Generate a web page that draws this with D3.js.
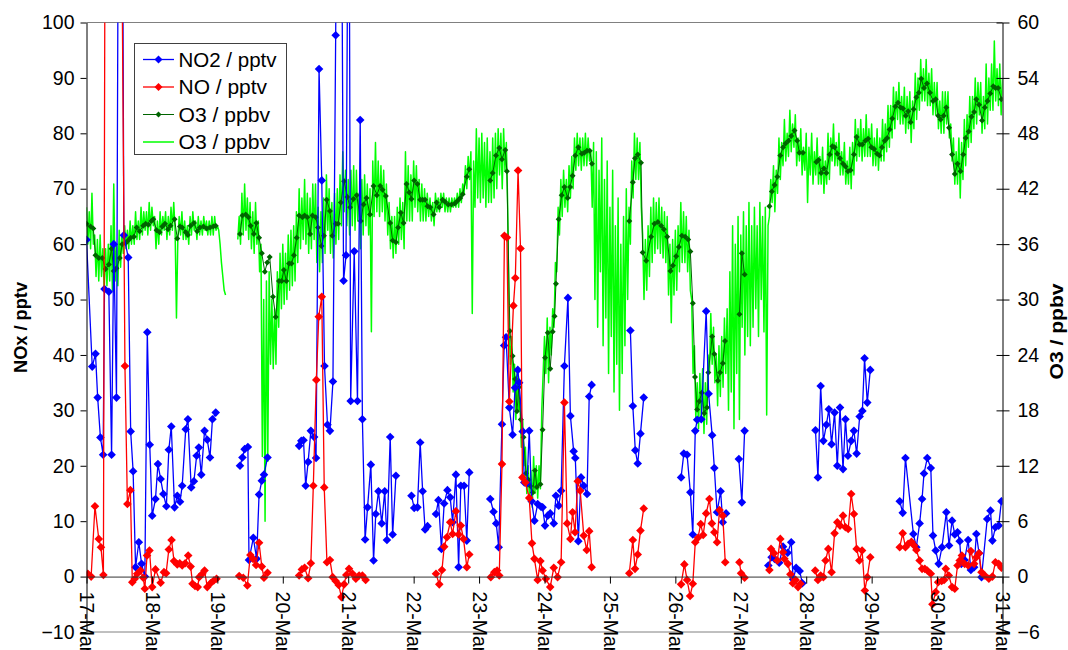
<!DOCTYPE html>
<html>
<head>
<meta charset="utf-8">
<script src="https://cdn.jsdelivr.net/npm/d3@7"></script>
<style>
  body { margin: 0; background: #fff; }
  svg { display: block; font-family: "Liberation Sans", Arial, sans-serif; }
</style>
</head>
<body>
<div id="chart"></div>
<script>
// time is in hours since 17-Mar 00:00, null = gap in the record

const dayLabels = ['17-Mar', '18-Mar', '19-Mar', '20-Mar', '21-Mar', '22-Mar', '23-Mar', '24-Mar',
  '25-Mar', '26-Mar', '27-Mar', '28-Mar', '29-Mar', '30-Mar', '31-Mar'];
const leftTicks = [-10, 0, 10, 20, 30, 40, 50, 60, 70, 80, 90, 100];
const rightTicks = [-6, 0, 6, 12, 18, 24, 30, 36, 42, 48, 54, 60];

// NO2 / pptv
const no2 = [
  [0,60.8],[2.1,37.9],[3.3,40.2],[4.1,32.3],[5.1,25.1],[6.1,22],[6.6,51.9],[8.2,51.4],[9.2,22],[10,60],[11,32.3],[12,170],[13,150],[13.7,61.6],[15.3,57.6],[16.2,26.2],[17.1,19],[18,1.7],[19.2,6.2],[20.2,2.3],[21.4,0],[22.3,44.1],[23.2,23.8],[24.1,11],[25.3,14],[26.2,20.3],[27.2,17.6],[28.2,14.9],[29.3,12.7],[30.2,22.9],[31.1,27.1],[32.3,12.5],[33.3,14.6],[34.3,13.5],[35.1,16.4],[36.4,26.6],[37.2,28.4],[38.4,16.1],[39.4,17.2],[40.4,21.8],[41.2,23.3],[42.1,18.4],[43.3,26.3],[44.3,24.7],[45.3,21.5],[46.2,28.4],[47.4,29.6],[48,null],
  [56.3,20],[57.2,21.5],[58,23],[59.2,23.4],[59.6,3],[61.2,7],[62.4,3.2],[63.3,14.8],[64.3,17.3],[65.1,18.4],[66.4,21.5],[67,null],
  [78,23.6],[78.8,24.5],[79.6,24.6],[80.4,16.4],[81.3,20.7],[82.3,26.3],[83.5,25.2],[84.2,21.4],[85.3,91.6],[86.3,71.5],[87.3,38],[88.4,27.4],[89.3,26.3],[90.4,35.2],[91.4,97.7],[92.4,180],[93.4,140],[94.3,53.4],[95.2,58],[96.2,150],[96.9,31.7],[98.2,58.7],[99.4,31.7],[100.4,82.4],[101.2,28.4],[102.2,6.7],[103.1,12.5],[104.3,20.2],[105.3,2.9],[106.1,11.3],[107.1,15.4],[108.3,9.6],[109.4,15.4],[110.2,6.6],[111.4,25.2],[112.3,7.6],[113.5,18.2],[114,null],
  [119.2,14.6],[120.2,12.4],[121.4,12.5],[122.4,24.2],[123.3,15.4],[124.2,8.5],[125.1,9.1],[126,null],
  [128.2,11.3],[129.1,13.8],[130.2,5],[131.2,13.2],[132.4,15.6],[133.4,14.3],[134.3,9.8],[135.5,18.4],[136.5,1.7],[137.3,16.4],[138.5,16.4],[139.5,6.5],[140.4,18.8],[141,null],
  [148.1,14],[149.3,11.7],[150.3,9.6],[151.2,5.3],[152.4,27.5],[153.2,41.7],[153.9,43.2],[155.1,30.5],[156.3,25.6],[157.2,34.1],[158.2,37.3],[158.7,35],[160,26.2],[160.6,17],[161.6,16.8],[162.4,26.3],[163.3,13.6],[164.3,10.1],[165.5,13.1],[166.7,12.6],[167.3,12.5],[168.2,9.2],[169.2,11],[170.1,11.4],[171.4,9.6],[172.2,14.6],[173.2,12.8],[174.1,15.5],[175.3,38],[176.6,50.3],[177.5,29],[178.7,22.6],[179.3,21.4],[180.4,6.4],[181.4,17.9],[182.4,16.4],[183.6,14.9],[184.4,32.5],[185.3,34.6],[186,null],
  [199.5,44.4],[200.4,30.8],[201.3,22.8],[202.2,20.4],[203.2,25.8],[204.4,32.3],[205,null],
  [218.1,17.9],[219.1,22.2],[220.3,22],[221.5,15.2],[222.4,7.6],[223.3,26.3],[224,28.3],[225.5,28.4],[227.3,47.9],[228.2,33],[229.5,25.5],[230.3,19.6],[231.3,11.6],[232.6,15.4],[233.4,9.8],[234.6,11.4],[235,null],
  [239.3,21.2],[240.4,13.4],[241.4,26.3],[242,null],
  [250.1,2],[251.3,3.5],[252.4,3.2],[254.1,2.5],[255.5,5.4],[257.2,4.3],[258.5,6.2],[259.2,-0.5],[260.3,1.6],[261.6,1],[262.6,-1.2],[263,null],
  [267.4,26.4],[268.3,17.9],[269.3,34.4],[270.3,24.5],[271.4,27.4],[272.3,30.2],[273.3,23.9],[274.4,29.6],[275.4,20],[276.4,30.5],[277.5,19.4],[278.4,28.4],[279.3,21.8],[280.5,24.5],[281.5,26.3],[282.5,22.2],[283.6,28.9],[284.6,29.9],[285.4,39.4],[286.4,31.4],[287.5,37.3],[288,null],
  [298.3,13.6],[299.4,11.5],[300.4,21.4],[303.3,7.7],[304.4,5.3],[305.6,9.6],[306.5,14],[307.2,18.6],[308.4,21.4],[309.7,19.6],[310.5,7.4],[311.5,4.7],[312.6,2.3],[313.8,5.3],[315.4,11.6],[316.4,5.6],[317.5,10.1],[318.5,7.6],[319.5,8],[320.3,6.4],[320.9,2.3],[322.1,3],[323.4,6.6],[324.4,1.2],[325.6,1.7],[326.4,7.7],[327.4,4.2],[328.3,-0.1],[330.4,10.4],[331.6,11.9],[332.3,6.5],[333.4,8.9],[334.6,9.2],[335.6,13.6]
];

// NO / pptv
const no = [
  [0.5,0.5],[1.7,0],[3.1,12.7],[4.5,6.8],[5.3,5.3],[6.2,0.3],[7.2,200],[8.3,300],[9.3,260],[10.3,250],[11.3,230],[12.3,250],[13.1,105],[14.1,38],[15,13.1],[16.1,15.6],[16.8,-1],[17.7,-0.4],[18.6,0.5],[19.8,1.1],[20.8,-0.2],[21.4,-2.2],[22.2,3.8],[23.1,4.7],[24.1,-1.9],[25.3,1.3],[27.2,-1.1],[28.4,0.8],[29.2,0.6],[30.2,4.9],[31.2,6.6],[32.1,2.8],[33.3,2.2],[34.2,2.4],[35.1,2],[36.2,2.4],[37.3,3.8],[38.2,1.8],[38.9,-1.3],[39.8,-1.7],[40.8,-1.9],[41.3,-0.1],[42.5,0.5],[43.3,1.1],[44.3,-1.9],[45.5,-1.2],[46.7,-0.7],[47.7,-0.4],[48.2,null],
  [56,0.1],[57.5,-0.2],[59,-1.6],[60.1,3.9],[61.1,3.2],[62.2,2.1],[63.3,6.1],[64.3,1.8],[65.1,-0.2],[66.4,0.7],[67,null],
  [78,0.2],[79,1.3],[80,1.6],[81.3,-0.3],[82.3,2.4],[83.2,16.4],[84.3,35.5],[85.2,46.9],[86.3,50.5],[87.2,16.1],[88.2,2.6],[89.3,3],[90.3,-0.1],[91.4,-0.8],[92.5,-1.5],[93.5,-3.7],[94.5,-1.4],[95.3,0.3],[96.3,1.4],[97.6,0.5],[98.8,-0.4],[100,0.2],[101.2,0.2],[102.4,-0.6],[103,null],
  [128.2,0.5],[129.4,-1.4],[130.4,1.2],[131.2,5.4],[132.2,7.1],[133.4,9.8],[134.3,7.7],[135.5,11.8],[136.5,7.6],[137.3,9.2],[138.3,6.8],[139.5,1.7],[140.4,4],[141,null],
  [148.3,-0.1],[149.6,0.8],[150.6,1.1],[151.4,0.2],[152.4,20.3],[153.3,61.5],[154.2,61.2],[155.1,31.6],[156.6,48.9],[157.3,53.9],[158.3,73.3],[159.2,59.2],[159.9,17.9],[161,17],[162.4,14.2],[163.4,6],[164.3,3.2],[165.5,-0.6],[166.5,2.8],[167.3,1.1],[168.5,-0.4],[170.1,-1.9],[171.4,1.6],[172.8,-0.1],[174.1,2.6],[175.3,31.4],[176.3,9.6],[177.5,6.8],[178.3,11.6],[179.2,8],[180.2,17.2],[181.1,15.5],[182.4,7.4],[183.5,4.8],[184.4,8.2],[185.3,1.7],[186,null],
  [199.1,0.6],[200.4,6.6],[201.2,1.4],[202.2,4],[203.2,8.3],[204.4,12.3],[205,null],
  [218.1,-1.4],[219.3,2.2],[220.3,-0.6],[221.4,-3.5],[222.4,-1.3],[223.3,6.2],[224.3,7],[225.3,9.5],[226.2,7.5],[227.3,11.4],[228.5,14],[229.4,9.6],[230.3,8],[231.3,6.2],[232.2,12],[233.4,11],[234.3,2.6],[235,null],
  [239.5,2.6],[240.1,0.6],[241.4,-0.2],[242,null],
  [250.5,1.2],[251.1,5],[252.2,4.2],[253.4,2.9],[254.5,6.8],[255.5,4.4],[256,3.2],[257.3,2.3],[258.2,0.4],[259.1,-1.2],[260.1,-0.6],[261,-1.9],[261.9,-1.3],[262.5,null],
  [267.3,1.1],[268.3,-0.6],[269.3,0.2],[270.3,-0.1],[271.1,2.9],[272.1,5],[273.3,0.8],[274.4,7.8],[275.4,9.8],[276.4,9.2],[277.5,11],[278.4,8.9],[279.4,8.6],[280.5,14.9],[281.5,11.3],[282.5,5],[283.5,2.9],[284.5,4.7],[285.5,-2.5],[286.4,-0.1],[287.5,3.5],[288,null],
  [298.3,5.3],[299.4,7.8],[300.4,5.3],[301.4,5.9],[302.6,6.3],[303.6,5.6],[304.4,4.8],[305.6,2.9],[306.5,1.4],[307.5,1.4],[308.4,1.1],[309.7,0.5],[310.3,-5],[311.5,-2.8],[312.4,-1],[313.7,-0.8],[314.6,-0.6],[315.2,1.4],[316.3,0.2],[317.5,-1.9],[318.5,-2.2],[319.5,2],[320.3,2.9],[321.1,3.8],[322.1,2.3],[323.4,2],[324.4,4.6],[325.6,2.3],[326.4,3.5],[327.4,4.2],[328.3,0.8],[329.5,0.2],[331,-0.4],[332.3,0],[333.4,2.6],[334.6,2.3],[335.6,1.6]
];

// O3 / ppbv, hourly (dark green, with markers)
const o3Hourly = [
  [0,38.2],[1.5,37.9],[2.5,37.7],[3.3,34.8],[4.5,34.5],[5.8,34.5],[7,33.3],[8.2,33.8],[9.2,35.5],[10,33.1],[11,33.4],[12.2,34.5],[13.1,36],[14.3,36.1],[15.3,36.4],[16.2,36.7],[17.4,36.8],[18.4,37.8],[19.5,37.4],[20.8,38],[21.7,38.2],[22.7,38.1],[23.8,38.5],[24.5,38.7],[25.7,37.5],[26.8,37.3],[27.8,37.9],[28.8,38.2],[29.9,37.6],[30.8,38],[32.3,38.7],[33.3,36.6],[34.3,37.9],[35.1,37.8],[36.4,37.3],[37.2,37],[38.2,38],[39.4,38.3],[40.6,37.4],[41.6,37.8],[42.9,37.9],[44.1,37.7],[45.3,37.8],[46.5,37.9],[47.4,38],[48,null],
  [56.3,37.1],[57.2,39.1],[58.4,39.2],[59.4,38.9],[60.2,38],[61.4,37.1],[62.3,38.3],[63.3,36.7],[64.3,35],[65.4,33],[66.3,34],[67.2,34.6],[68.4,30.3],[69.4,28.1],[70.6,32],[71.6,32],[72.4,33.2],[73.3,32],[74.3,33.9],[75.2,33.9],[76.1,34.8],[77.1,36.7],[78,39.1],[79.2,38.9],[80,39.1],[81,38.9],[82,37.1],[82.9,39.1],[84.1,38.9],[84.9,37.8],[86.2,35.8],[87.1,36.9],[88.1,40.8],[89.3,39.6],[90.2,36.9],[91.4,38.2],[92.3,38.2],[93.3,40.5],[94.5,42.8],[95.7,41.1],[96.7,40],[97.9,40.9],[99.1,41.3],[100.6,38.5],[101.6,40.3],[102.7,41],[104,39.2],[105.3,42.3],[106.5,41.3],[107.7,42.3],[108.6,41.9],[109.8,41.2],[111.4,38.3],[112.3,36.4],[113.5,36.2],[114.3,37.8],[115.3,39.4],[116.3,38.3],[117.4,42.5],[118.4,41.6],[119.2,40.9],[120.2,42.9],[121.4,42.5],[122.4,40.8],[123.3,40.8],[124.2,40.8],[125.1,40.1],[126.1,40],[127.3,39.2],[128.4,40.5],[129.4,40],[130.6,40.8],[131.5,40.6],[132.7,40.3],[133.9,40.3],[135.1,40.4],[136.1,40.7],[137.1,41],[138,41.4],[139.5,43.3],[140.4,44.1],[141,null],
  [148.1,42.9],[149,43.7],[150.2,45.6],[151.4,46.4],[152.4,45.2],[153.6,46.2],[154.2,43.9],[155.3,26.6],[156.3,23.9],[157.2,21.4],[157.9,17.9],[158.6,20.5],[159.3,17],[160.3,15.1],[161.2,11.2],[162.1,10.5],[162.8,9.8],[163.7,9.1],[164.5,11.5],[165.2,9.7],[166.5,10],[167.3,15.9],[168.2,23.7],[169.2,26.4],[170.1,22.5],[171,26.5],[171.7,28.2],[172.2,31.7],[173.2,38.7],[174.3,41.3],[175.3,42.2],[176.5,41],[177.4,42.2],[178.3,43.4],[179.3,45.6],[180.4,46.5],[181.7,45.8],[182.6,45.9],[183.6,46.1],[184.6,46.1],[185.4,44.7],[186,null],
  [199.1,38.5],[200.4,42.7],[201.2,45.3],[202.2,45.7],[203.4,44.8],[204,35.1],[205.3,34.2],[207.1,36.8],[208.3,38.2],[209.6,38.4],[210.8,38],[211.8,37.6],[213,36.8],[214.2,33.1],[215.1,33.7],[216.3,34.7],[217.3,35.7],[218.4,36.9],[219.6,36.8],[220.7,36.5],[221.5,35.2],[222.4,29.6],[223.2,21.6],[224,18.1],[224.8,19],[225.7,19.9],[226.6,17.7],[227.6,18.3],[228.1,22.1],[229.5,26],[230.3,24.1],[231.6,21.2],[232.4,22.1],[233.4,23.1],[234.2,25.5],[235,null],
  [239.5,28.4],[240.4,35],[241.4,32.7],[242,null],
  [250.5,40.1],[251.4,41.7],[252.4,42.4],[253.4,43.3],[254.5,45.6],[255.5,46.5],[256.4,46.9],[257.5,47.2],[258.5,47.7],[259.7,48.3],[260.7,47.2],[261.5,45.9],[262.8,45.9],[263.5,null],
  [267.7,44.9],[268.5,45.1],[269.5,43.7],[270.5,44.2],[271.4,43.7],[272.6,45.7],[273.6,46.6],[274.4,46.5],[275.4,45.8],[276.4,45.3],[277.5,44.7],[278.4,44.4],[279.3,43.9],[280.3,44],[281.5,45.7],[282.5,47.6],[283.6,46.8],[284.6,46.8],[285.7,47.2],[286.7,47.4],[287.9,46.5],[288.9,46.3],[290,45.8],[290.9,45.6],[291.8,46.5],[292.8,47.2],[293.7,47.5],[294.6,48.4],[295.6,49.6],[296.7,50.9],[297.7,51.3],[298.6,50.8],[299.5,50.7],[300.5,49.9],[301.4,50.4],[302.3,49.2],[303.4,50.6],[304.4,51.9],[305.3,52.4],[306.2,53.9],[307.2,52.9],[308.3,53.4],[309.4,52.4],[310.5,51.5],[311.5,51.7],[312.4,49.9],[313.3,49.5],[314.4,49.9],[315.4,50.8],[316.4,48.6],[317.5,45.7],[318.5,43.6],[319.5,44.7],[320.6,43.9],[321.6,45.7],[322.5,47.5],[323.6,48.2],[324.6,49.8],[325.6,50.3],[326.4,51.7],[327.4,51.1],[328.5,49.4],[329.5,50.8],[330.5,51.5],[331.5,52.3],[332.6,53.1],[333.4,52.9],[334.4,52.9],[335.6,51.7]
];

// O3 / ppbv, fast record (light green): [start hour, values every half hour]
const o3FastStep = 0.5;
const o3FastSegments = [
  [0, [40,36,39.5,35.5,41.5,36,37,32.5,36.5,32,37,32.5,35.5,31,35.5,31.5,36,32,38,31,42.5,32,36,31.5,37.5,33.5]],
  [13, [37,35, 38,35.5, 37.5,35.5, 38.5,36, 38,36, 39.5,36.5, 38.5,36.5, 40,37, 39.5,37.5, 39.5,37, 40.5,37.5, 40,38,
        39,35.5, 38.5,36, 39.5,37, 39,37.5, 39.5,36.5, 39,37, 40,37.5, 40.5,37.5, 28,36.5, 39,37, 39.5,36.5, 38.5,36.5,
        38,36, 39,37, 39.5,37.5, 38.5,36.5, 39,37, 38.5,37, 39,37.5, 38.5,37, 38.5,37, 39,37, 39,37.5]],
  [48, [38,37.5,36,34,32.5,31,30.5]],
  [55.5, [36.5, 39,36, 41.5,37, 42.5,37.5, 41,36.5, 40.5,35.5, 39.5,35, 40.5,36, 38.5,33]],
  [64, [36,13, 30,6, 32,12.5, 33,23, 30,22.5, 29,23, 33,27, 35,29, 36,29.5, 35,30, 37,31, 37.5,31.5, 38,32, 39.5]],
  [77.5, [34, 42,35.5, 41,36.5, 43,36, 41.5,35, 41,35.5, 42.5,36.5, 42.5,34, 40,33, 39.5,34, 41,35, 43.5,37.5, 42,35,
          40.5,34.5, 41.5,36, 42,36.5, 43.5,38, 46,39.5, 44,38, 43,37, 44,38, 44.5,37.5, 44,38.5, 41.5,35.5, 43,37,
          43.5,38, 42.5,37, 42,26.5, 45,39, 47,39.5, 45,39, 44.5,39.5, 44,38.5, 42.5,37, 40.5,35.5, 39,34.5,
          39,35, 40,36, 41]],
  [115.5, [36.5, 40.5,35.5, 46,38.5, 44.5,38.5, 43.5,38.5, 45,40, 44.5,39.5, 43,38.5, 42.5,38.5, 42,38.5, 41.5,39,
           41,38.5, 40.5,38, 41.5,39.5, 41,39.5, 41.5,40, 41.5,39.5, 41,39.5, 41,39.5, 41,40, 41,40, 41.5,40, 42,40.5,
           42.5,41.5, 44.5,42, 45.5,43]],
  [141, [46,28.5, 45,40, 48.5,41, 47.5,40.5, 48,41, 47,40, 47.5,40.5, 46,40.5, 47.5,41, 48,42, 48.5,43.5, 48,42,
         48.5,44, 47,40]],
  [155, [27,23, 26,20, 23,17, 22,18, 19,14, 17,12, 14,9, 12,8, 11.5,7.5, 13,9, 12,8.5, 12,9.5, 18,22, 26,22, 28,21,
         27,24, 29,27, 34,33, 40,37]],
  [174, [43,39, 44,40, 43,39.5, 44.5,41, 45.5,42, 47.5,44, 48,44.5, 47.5,44, 47.5,44.5, 48,44.5, 47.5,45, 46,40]],
  [186, [47,30, 46,27, 44,33, 47.5,25, 43,28, 45,22, 40,26, 44,20, 38,23, 41,18, 36,22, 39,25, 42,30, 40,36]],
  [200, [45,41, 48,43, 47.5,43, 47,40, 37,30, 36.5,31, 38,32.5, 40,34, 41,35, 40.5,35.5, 41,35, 40,34.5, 39.5,34,
         39,30.5, 36,27.5, 36.5,30.5, 37.5,31, 38,33, 40.5,34, 39.5,34, 39,33, 37.5,31, 30,22, 25,17, 21,16, 22,17,
         22.5,15.5, 21,16.5, 24,22, 28.5,23, 27,21, 24,18.5, 25,19.5, 26,20.5, 28,22]],
  [235, [29,18, 33,20, 38,16, 36,22, 39,17, 37,27, 39.5,24, 38,26, 40.5,25, 38,27, 40,29, 38,26, 40.5,30, 39,26.5,
         40,17.5, 38,39]],
  [251, [43,40.5, 44.5,39.5, 44,41.5, 47.5,43, 47,44.5, 49.5,45, 48,45.5, 50.5,46, 49,46.5, 50,44.5, 47.5,45, 48.5,43.5,
         46.5,44, 48,40.5, 46.5,43.5, 48,42.5, 46,43.5, 47.5,42.5, 45.5,42.5, 46.5,41.5, 45,42.5, 48,43, 47.5,45, 49,44.5,
         47,44.5, 48,43.5, 46,43.5, 47,42.5, 45,42.5, 46.5,42, 47,43.5, 49.5,45, 48.5,45.5, 49.5,45, 48.5,45.5, 50,45.5,
         48.5,45.5, 49,44.5, 47.5,44.5, 48.5,44, 47.5,45, 49.5,45, 49,46, 51,46.5, 51,47.5, 53,48.5, 52.5,49.5,
         53.5,49, 52,49, 53,48, 52,48.5, 52.5,47, 51.5,48.5, 54.5,49.5, 54,50.5, 56,51.5, 55,51.5, 56,51, 54.5,51,
         55,50, 53.5,50, 53.5,48.5, 51.5,48, 52.5,48, 52.5,49, 52.5,47.5, 49,45, 47.5,42.5, 46,42.5, 47.5,41, 47,43, 49.5,44.5,
         50,46.5, 52,47, 52,48.5, 54,49, 53.5,50, 53.5,48, 52,48.5, 55.5,49, 54,50.5, 55.5,50.5, 58,51.5,
         55,51, 55.5,50, 54]]
];

const width = 1068, height = 650;
const plot = { left: 86.5, right: 1002.5, top: 22.5, bottom: 632 };

const svg = d3.select('#chart').append('svg')
  .attr('width', width)
  .attr('height', height);

const x = d3.scaleLinear().domain([0, 336]).range([plot.left, plot.right]);
const yL = d3.scaleLinear().domain([-10, 100]).range([plot.bottom, plot.top]);
const yR = d3.scaleLinear().domain([-6, 60]).range([plot.bottom, plot.top]);

svg.append('clipPath').attr('id', 'plot-clip')
  .append('rect')
  .attr('x', plot.left).attr('y', plot.top)
  .attr('width', plot.right - plot.left).attr('height', plot.bottom - plot.top);

// plot area border (top and bottom)
[plot.top, plot.bottom].forEach(yy => {
  svg.append('line')
    .attr('x1', plot.left).attr('x2', plot.right)
    .attr('y1', yy).attr('y2', yy)
    .style('stroke', '#808080').style('stroke-width', 1);
});

// light green series from half-hourly segments
const o3Fast = [];
o3FastSegments.forEach(([start, vals]) => {
  const last = o3Fast[o3Fast.length - 1];
  if (last && start - last[0] > 1) o3Fast.push([start - o3FastStep, null]);
  vals.forEach((v, j) => o3Fast.push([start + j * o3FastStep, v]));
});

const diamond = r => `M0,${-r}L${r},0L0,${r}L${-r},0Z`;

const g = svg.append('g').attr('clip-path', 'url(#plot-clip)');

function drawSeries(data, yScale, color, lineWidth, markerR) {
  const line = d3.line()
    .defined(d => d[1] != null)
    .x(d => x(d[0]))
    .y(d => yScale(d[1]));

  g.append('path')
    .datum(data)
    .attr('d', line)
    .style('fill', 'none')
    .style('stroke', color)
    .style('stroke-width', lineWidth)
    .style('stroke-linejoin', 'round');

  if (markerR) {
    g.append('g').selectAll('path')
      .data(data.filter(d => d[1] != null))
      .enter()
      .append('path')
      .attr('d', diamond(markerR))
      .attr('transform', d => `translate(${x(d[0])},${yScale(d[1])})`)
      .style('fill', color);
  }
}

drawSeries(o3Fast, yR, '#00ff00', 1.5, 0);
drawSeries(o3Hourly, yR, '#006400', 1, 3);
drawSeries(no2, yL, '#0000ff', 1.3, 4.3);
drawSeries(no, yL, '#ff0000', 1.3, 4.3);

// axes
const fontSize = '19.5px';

const axL = svg.append('g')
  .attr('transform', `translate(${plot.left},0)`)
  .call(d3.axisLeft(yL).tickValues(leftTicks).tickSize(6).tickPadding(6).tickSizeOuter(0));

const axR = svg.append('g')
  .attr('transform', `translate(${plot.right},0)`)
  .call(d3.axisRight(yR).tickValues(rightTicks).tickSize(7).tickPadding(8).tickSizeOuter(0));
axR.selectAll('.tick line').attr('x1', -6);

const axX = svg.append('g')
  .attr('transform', `translate(0,${yL(0)})`)
  .call(d3.axisBottom(x).tickValues(d3.range(0, 337, 24)).tickFormat((d, i) => dayLabels[i])
    .tickSize(7).tickSizeOuter(0));
axX.select('.domain').style('stroke', '#333');
axX.selectAll('.tick text')
  .attr('transform', 'rotate(90)')
  .attr('x', 15)
  .attr('y', 0)
  .attr('dy', '0.35em')
  .style('text-anchor', 'start');

[axL, axR, axX].forEach(ax => {
  ax.selectAll('text').style('font-size', fontSize).style('fill', '#000')
    .style('font-family', '"Liberation Sans", Arial, sans-serif');
  ax.selectAll('line').style('stroke', '#000');
});
axL.select('.domain').style('stroke', '#000');
axR.select('.domain').style('stroke', '#000');

// axis titles
svg.append('text')
  .attr('transform', `translate(27,327.5) rotate(-90)`)
  .attr('text-anchor', 'middle')
  .attr('textLength', 91)
  .attr('lengthAdjust', 'spacingAndGlyphs')
  .style('font-size', '18px')
  .style('font-weight', 'bold')
  .text('NOx / pptv');

svg.append('text')
  .attr('transform', `translate(1063,331.5) rotate(-90)`)
  .attr('text-anchor', 'middle')
  .attr('textLength', 96)
  .attr('lengthAdjust', 'spacingAndGlyphs')
  .style('font-size', '18px')
  .style('font-weight', 'bold')
  .text('O3 / ppbv');

// legend
const legendItems = [
  { label: 'NO2 / pptv', color: '#0000ff', r: 4, width: 1.3, len: 98 },
  { label: 'NO / pptv', color: '#ff0000', r: 4, width: 1.3, len: 88.5 },
  { label: 'O3 / ppbv', color: '#006400', r: 3, width: 1, len: 91.5 },
  { label: 'O3 / ppbv', color: '#00ff00', r: 0, width: 1.5, len: 91.5 }
];

const legend = svg.append('g');
legend.append('rect')
  .attr('x', 134.5).attr('y', 43.5)
  .attr('width', 152).attr('height', 111)
  .style('fill', '#fff')
  .style('stroke', '#404040')
  .style('stroke-width', 1);

legendItems.forEach((item, i) => {
  const yy = 59.5 + i * 27.5;
  legend.append('line')
    .attr('x1', 143).attr('x2', 174)
    .attr('y1', yy).attr('y2', yy)
    .style('stroke', item.color)
    .style('stroke-width', item.width);
  if (item.r) {
    legend.append('path')
      .attr('d', diamond(item.r))
      .attr('transform', `translate(158.5,${yy})`)
      .style('fill', item.color);
  }
  legend.append('text')
    .attr('x', 178.5)
    .attr('y', yy)
    .attr('dy', '0.36em')
    .attr('textLength', item.len)
    .attr('lengthAdjust', 'spacingAndGlyphs')
    .style('font-size', '19.5px')
    .text(item.label);
});
</script>
</body>
</html>
